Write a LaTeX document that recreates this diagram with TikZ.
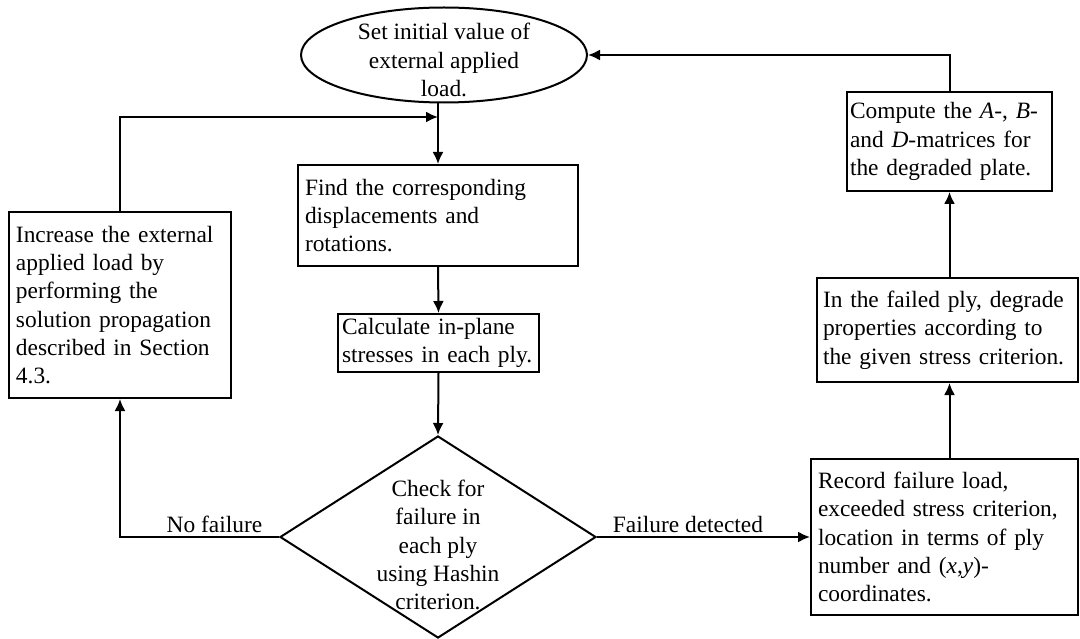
\documentclass[tikz,border=0pt]{standalone}
\usepackage{fontspec}
\setmainfont{Liberation Serif}
\usetikzlibrary{shapes.geometric,arrows.meta}
\begin{document}
\begin{tikzpicture}[x=1pt,y=-1pt,
  line/.style={line width=2pt},
  arr/.style={line width=2pt, -{Latex[length=12pt,width=11pt]}},
  box/.style={draw, line width=2pt, rectangle, inner ysep=0pt, align=left, font=\fontsize{23.4}{28.3}\selectfont},
  txt/.style={font=\fontsize{23.4}{28.3}\selectfont, align=center, inner sep=0pt},
  lbl/.style={font=\fontsize{23.4}{28.3}\selectfont, inner sep=0pt, anchor=base}]
\useasboundingbox (0,0) rectangle (1080,639);

\node[draw, line, ellipse, minimum width=286pt, minimum height=95pt, inner sep=0pt] (start) at (444,55) {};
\node[txt] (starttext) at (444,60) {Set initial value of\\external applied\\load.};

\node[box, inner xsep=7pt, text width=266pt, minimum height=101pt] (find) at (438,215.5)
  {\mbox{Find the corresponding}\\\mbox{displacements and}\\\mbox{rotations.}};
\node[box, inner xsep=4pt, text width=193pt, minimum height=58pt] (calc) at (438.5,343)
  {\mbox{Calculate in-plane}\\\mbox{stresses in each ply.}};

\node[draw, line, diamond, minimum width=316pt, minimum height=202pt, inner sep=0pt] (check) at (438,537) {};
\node[txt] (checktext) at (438,545) {Check for\\failure in\\each ply\\using Hashin\\criterion.};

\node[box, inner xsep=7pt, text width=208pt, minimum height=186pt] (incr) at (120,305)
  {\mbox{Increase the external}\\\mbox{applied load by}\\\mbox{performing the}\\\mbox{solution propagation}\\\mbox{described in Section}\\\mbox{4.3.}};

\node[box, inner xsep=3pt, text width=199pt, minimum height=99pt] (comp) at (949.5,141.5)
  {\mbox{Compute the \textit{A}-, \textit{B}-}\\\mbox{and \textit{D}-matrices for}\\\mbox{the degraded plate.}};
\node[box, inner xsep=6pt, text width=249pt, minimum height=104pt] (fail) at (947.5,330)
  {\mbox{In the failed ply, degrade}\\\mbox{properties according to}\\\mbox{the given stress criterion.}};
\node[box, inner xsep=7pt, text width=253pt, minimum height=156pt] (record) at (944.5,537)
  {\mbox{Record failure load,}\\\mbox{exceeded stress criterion,}\\\mbox{location in terms of ply}\\\mbox{number and (\textit{x},\textit{y})-}\\\mbox{coordinates.}};

\coordinate (join) at (438,117);

\draw[arr] (start.south -| find.north) -- (find.north);
\draw[arr] (find.south) -- (calc.north);
\draw[arr] (calc.south) -- (check.north);
\draw[arr] (check.west) -| (incr.south);
\draw[arr] (incr.north) |- (join);
\draw[arr] (check.east) -- (record.west);
\draw[arr] (record.north -| comp.north) -- (fail.south -| comp.north);
\draw[arr] (fail.north -| comp.north) -- (comp.south);
\draw[arr] (comp.north) |- (start.east);

\node[lbl] (nofail) at (214.5,532) {No failure};
\node[lbl] (faildet) at (688,532) {Failure detected};
\end{tikzpicture}
\end{document}
